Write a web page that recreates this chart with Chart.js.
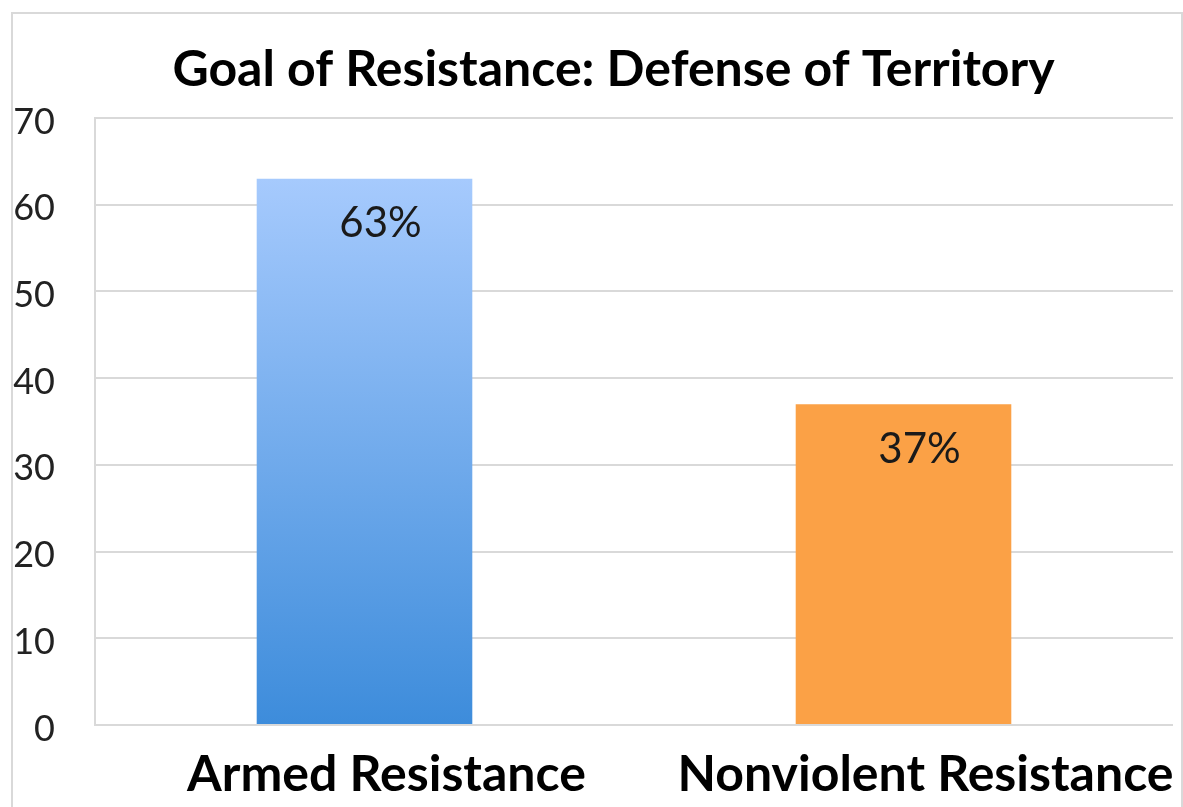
<!DOCTYPE html>
<html>
<head>
<meta charset="utf-8">
<script src="https://cdn.jsdelivr.net/npm/chart.js@4/dist/chart.umd.min.js"></script>
<style>
  html, body { margin: 0; padding: 0; background: #fff; }
  #wrap { width: 1183px; height: 807px; position: relative; }
</style>
</head>
<body>
<div id="wrap"><canvas id="chart"></canvas></div>
<script>
// Données du graphique
const categories = ['Armed Resistance', 'Nonviolent Resistance'];
const values = [63, 37];
const valueLabels = ['63%', '37%'];
const yTicks = [0, 10, 20, 30, 40, 50, 60, 70];
const chartTitle = 'Goal of Resistance: Defense of Territory';

const FONT = 'Lato, "Open Sans", sans-serif';

// Cadre gris + titre
const framePlugin = {
  id: 'frame',
  beforeDraw(chart) {
    const ctx = chart.ctx;
    ctx.save();
    ctx.fillStyle = '#ffffff';
    ctx.fillRect(0, 0, chart.width, chart.height);
    ctx.strokeStyle = '#d9d9d9';
    ctx.lineWidth = 2;
    ctx.strokeRect(12, 13, chart.width - 13, chart.height + 20);
    ctx.fillStyle = '#000';
    ctx.font = 'bold 50px ' + FONT;
    ctx.textAlign = 'center';
    ctx.textBaseline = 'middle';
    ctx.fillText(chartTitle, chart.width / 2 + 22, 70);
    ctx.restore();
  }
};

// Étiquettes de valeur dans les barres
const valueLabelPlugin = {
  id: 'valueLabels',
  afterDatasetsDraw(chart) {
    const ctx = chart.ctx;
    const meta = chart.getDatasetMeta(0);
    ctx.save();
    ctx.fillStyle = '#1a1a1a';
    ctx.font = '42px ' + FONT;
    ctx.textAlign = 'center';
    ctx.textBaseline = 'middle';
    meta.data.forEach((bar, i) => {
      ctx.fillText(valueLabels[i], bar.x + 16, bar.y + 45);
    });
    ctx.restore();
  }
};

function barColor(context) {
  const chart = context.chart;
  const area = chart.chartArea;
  if (!area) return '#6aa6ee';
  if (context.dataIndex === 1) return '#fba146';
  const g = chart.ctx.createLinearGradient(0, chart.scales.y.getPixelForValue(values[0]), 0, area.bottom);
  g.addColorStop(0, '#a6cafd');
  g.addColorStop(1, '#3d8cdb');
  return g;
}

new Chart(document.getElementById('chart'), {
  type: 'bar',
  data: {
    labels: categories,
    datasets: [{
      data: values,
      backgroundColor: barColor,
      borderWidth: 0,
      barPercentage: 0.4,
      categoryPercentage: 1
    }]
  },
  options: {
    responsive: true,
    maintainAspectRatio: false,
    animation: false,
    layout: { padding: { left: 13, right: 10, top: 118, bottom: 0 } },
    plugins: {
      legend: { display: false },
      tooltip: { enabled: false },
      title: { display: false }
    },
    scales: {
      x: {
        grid: { display: false, drawTicks: false },
        border: { display: false },
        ticks: {
          color: '#000',
          font: { family: FONT, size: 50, weight: 'bold' },
          padding: 20,
          labelOffset: 22,
          maxRotation: 0
        },
        afterFit(scale) { scale.height = 82; }
      },
      y: {
        min: 0,
        max: 70,
        afterBuildTicks(scale) { scale.ticks = yTicks.map(v => ({ value: v })); },
        grid: { color: '#d9d9d9', lineWidth: 2, drawTicks: false },
        border: { display: true, color: '#d9d9d9', width: 2 },
        ticks: {
          color: '#222',
          font: { family: FONT, size: 36 },
          padding: 40,
          labelOffset: 4
        },
        afterFit(scale) { scale.width = 82; }
      }
    }
  },
  plugins: [framePlugin, valueLabelPlugin]
});
</script>
</body>
</html>
